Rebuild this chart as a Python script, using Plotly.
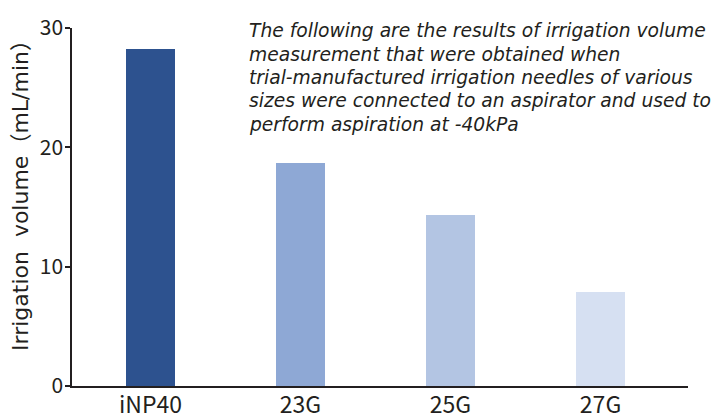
import plotly.graph_objects as go

categories = ["iNP40", "23G", "25G", "27G"]
values = [28.2, 18.7, 14.3, 7.9]
colors = ["#2d528f", "#8ea8d5", "#b3c5e3", "#d6e0f2"]
y_ticks = [0, 10, 20, 30]
note_lines = [
    "The following are the results of irrigation volume",
    "measurement that were obtained when",
    "trial-manufactured irrigation needles of various",
    "sizes were connected to an aspirator and used to",
    "perform aspiration at -40kPa",
]
y_title = "Irrigation  volume（mL/min）"

dark = "#231f20"
tick_family = "Noto Sans CJK JP, Noto Sans, sans-serif"

# page body has an 8px default margin; size/margins compensate for it
OFF = 8
W, H = 725 - OFF, 419 - OFF
L, R, T, B = 72 - OFF, 37, 28 - OFF, 33
pw, ph = W - L - R, H - T - B

fig = go.Figure(go.Bar(
    x=categories, y=values, marker=dict(color=colors, line=dict(width=0)),
    width=0.327,
))

annotations = []
for i, line in enumerate(note_lines):
    yc = 31 + 23.3 * i - OFF
    annotations.append(dict(
        text="<i>" + line + "</i>", xref="paper", yref="paper",
        x=(247 - OFF - L) / pw, y=1 - (yc - T) / ph,
        xanchor="left", yanchor="middle", align="left", showarrow=False,
        font=dict(family="DejaVu Sans, sans-serif", size=18.7, color=dark),
    ))

# y-axis title as a rotated annotation (positioned like the reference)
annotations.append(dict(
    text=y_title, xref="paper", yref="paper",
    x=(20 - OFF - L) / pw, y=1 - (190 - OFF - T) / ph,
    xanchor="center", yanchor="middle", textangle=-90, showarrow=False,
    font=dict(family="DejaVu Sans, Noto Sans CJK JP, sans-serif", size=22, color=dark),
))

fig.update_layout(
    width=W, height=H,
    margin=dict(l=L, r=R, t=T, b=B, autoexpand=False),
    plot_bgcolor="white", paper_bgcolor="white",
    showlegend=False,
    bargap=0,
    xaxis=dict(
        type="category", range=[-0.523, 3.583], automargin=False,
        showline=True, linecolor=dark, linewidth=1.5,
        ticks="", showgrid=False, ticklabelstandoff=-2,
        tickfont=dict(family=tick_family, size=23, color=dark),
    ),
    yaxis=dict(
        range=[0, 30], tickvals=y_ticks, automargin=False,
        showline=True, linecolor=dark, linewidth=1.5,
        ticks="outside", ticklen=5, tickwidth=1.5, tickcolor=dark,
        showgrid=False, zeroline=False, ticklabelstandoff=-2,
        tickfont=dict(family=tick_family, size=21, color=dark),
    ),
    annotations=annotations,
)

fig.write_html("out.html")
